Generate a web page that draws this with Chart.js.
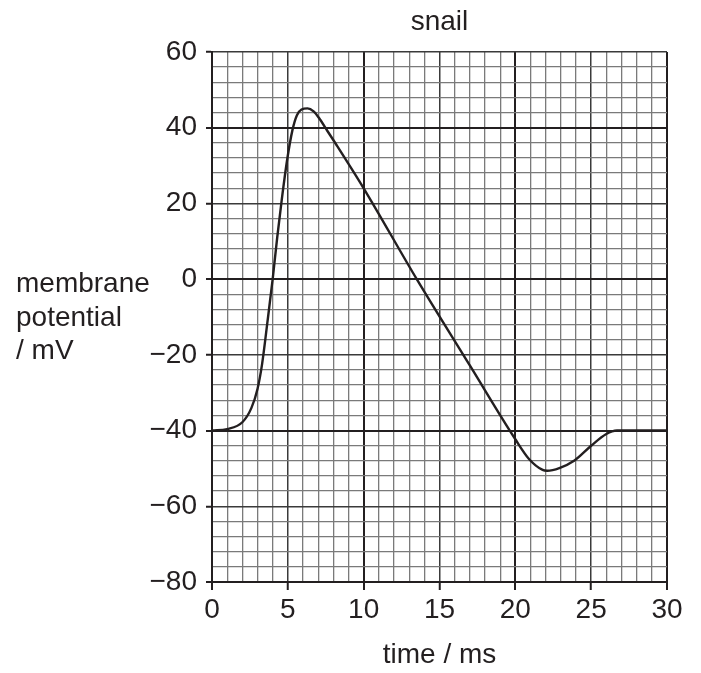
<!DOCTYPE html>
<html>
<head>
<meta charset="utf-8">
<script src="https://cdn.jsdelivr.net/npm/chart.js@4"></script>
<style>
  html, body { margin: 0; padding: 0; background: #fff; }
  #wrap { width: 701px; height: 673px; position: relative; }
</style>
</head>
<body>
<div id="wrap"><canvas id="chart"></canvas></div>
<script>
// --- Data ---
const timeMs = [0, 1, 2, 2.6, 3, 3.3, 3.65, 4, 4.3, 4.6, 4.95, 5.3, 5.6, 5.9, 6.3, 6.7, 7.1, 7.6, 8.2, 10,
                13.5, 17, 20, 20.9, 21.8, 22.1, 22.9, 23.9, 25, 26, 26.7, 28, 30];
const potentialMv = [-40, -39.6, -37.8, -34, -29, -22.5, -11.5, 0, 11, 21, 31.4, 39.3, 43.3, 44.8, 45.1, 44.3, 42.3, 39.2, 35.5, 24,
                     0, -22.8, -42.3, -47.5, -50.4, -50.6, -49.9, -47.9, -44, -40.9, -40, -40, -40];

const xLabelValues = [0, 5, 10, 15, 20, 25, 30];
const yLabelValues = [-80, -60, -40, -20, 0, 20, 40, 60];

const chartTitle = 'snail';
const xTitle = 'time / ms';
const yTitleLines = ['membrane', 'potential', '/ mV'];

const ink = '#231f20';
const minorGrid = '#7a7a7a';
const fontFamily = '"Liberation Sans", Arial, sans-serif';
const fontSize = 28;

const fmt = v => (v < 0 ? '\u2212' + Math.abs(v) : String(v));

// graph paper: bold every 10 small squares, dark every 5, grey otherwise
function gridStyle(index, period) {
    if (index % (period * 2) === 0) return { color: ink, width: 2 };
    if (index % period === 0) return { color: '#3a3a3a', width: 1.5 };
    return { color: minorGrid, width: 1.3 };
}

// extra texts the axes can't place (title over plot, horizontal y label)
const sideText = {
    id: 'sideText',
    afterDraw(chart) {
        const { ctx, chartArea } = chart;
        ctx.save();
        ctx.fillStyle = ink;
        ctx.font = fontSize + 'px ' + fontFamily;
        ctx.textBaseline = 'alphabetic';
        ctx.textAlign = 'center';
        ctx.fillText(chartTitle, (chartArea.left + chartArea.right) / 2, 30);
        ctx.textAlign = 'left';
        yTitleLines.forEach((line, i) => ctx.fillText(line, 16, 292 + i * 33.5));
        ctx.restore();
    }
};

Chart.defaults.font.family = fontFamily;
Chart.defaults.color = ink;

const ctx = document.getElementById('chart').getContext('2d');
new Chart(ctx, {
    type: 'line',
    data: {
        datasets: [{
            label: 'snail',
            data: timeMs.map((t, i) => ({ x: t, y: potentialMv[i] })),
            borderColor: ink,
            borderWidth: 2.4,
            pointRadius: 0,
            cubicInterpolationMode: 'monotone',
            fill: false
        }]
    },
    options: {
        responsive: true,
        maintainAspectRatio: false,
        animation: false,
        layout: { padding: { left: 0, right: 34, top: 52, bottom: 0 } },
        plugins: {
            legend: { display: false },
            tooltip: { enabled: false }
        },
        scales: {
            x: {
                type: 'linear',
                min: 0,
                max: 30,
                ticks: {
                    stepSize: 1,
                    autoSkip: false,
                    maxRotation: 0,
                    padding: 3,
                    color: ink,
                    font: { size: fontSize },
                    callback: v => xLabelValues.includes(v) ? fmt(v) : ''
                },
                grid: {
                    color: c => gridStyle(c.tick.value, 5).color,
                    lineWidth: c => gridStyle(c.tick.value, 5).width,
                    tickLength: 8,
                    tickWidth: 2,
                    tickColor: c => xLabelValues.includes(c.tick.value) ? ink : 'rgba(0,0,0,0)'
                },
                border: { color: ink, width: 2 },
                title: {
                    display: true,
                    text: xTitle,
                    color: ink,
                    font: { size: fontSize },
                    padding: { top: 0, bottom: 1 }
                },
                afterFit: s => { s.height = 91; }
            },
            y: {
                type: 'linear',
                min: -80,
                max: 60,
                ticks: {
                    stepSize: 4,
                    autoSkip: false,
                    padding: 9,
                    color: ink,
                    font: { size: fontSize },
                    callback: v => yLabelValues.includes(v) ? fmt(v) : ''
                },
                grid: {
                    color: c => gridStyle(c.tick.value / 4, 5).color,
                    lineWidth: c => gridStyle(c.tick.value / 4, 5).width,
                    tickLength: 6,
                    tickWidth: 2,
                    tickColor: c => yLabelValues.includes(c.tick.value) ? ink : 'rgba(0,0,0,0)'
                },
                border: { color: ink, width: 2 },
                afterFit: s => { s.width = 212; }
            }
        }
    },
    plugins: [sideText]
});
</script>
</body>
</html>
